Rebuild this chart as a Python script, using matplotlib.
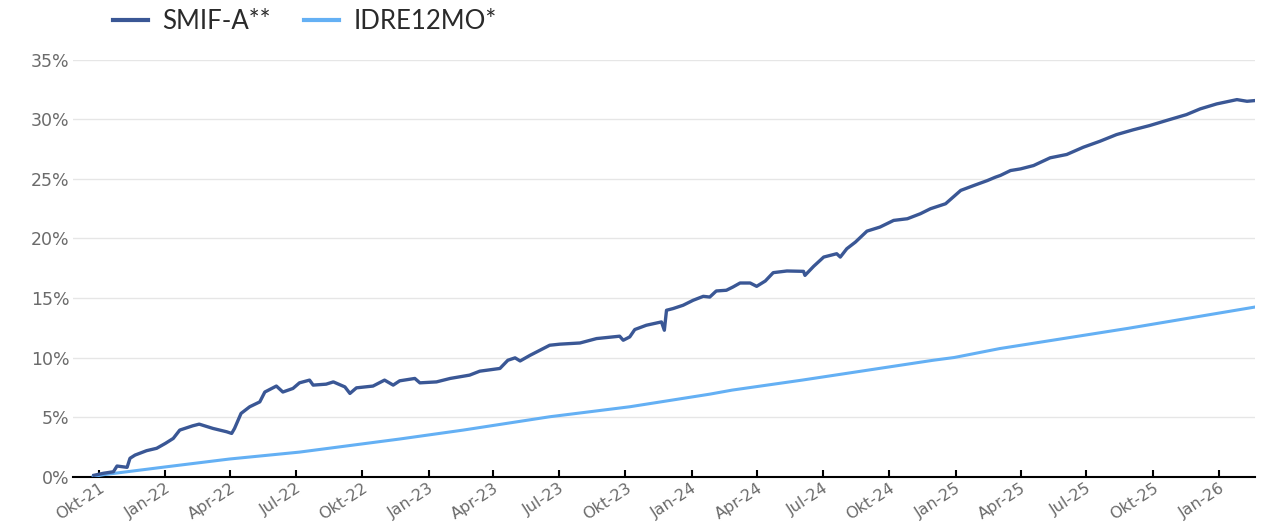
import pandas as pd
import matplotlib
matplotlib.use("Agg")
import matplotlib.pyplot as plt
from matplotlib.ticker import FuncFormatter

# cumulative performance in percent
smif_dates = [
    "2021-09-24", "2021-10-07", "2021-10-21", "2021-10-26", "2021-11-09", "2021-11-13",
    "2021-11-20", "2021-12-06", "2021-12-20", "2022-01-01", "2022-01-12", "2022-01-21",
    "2022-02-08", "2022-02-17", "2022-03-08", "2022-03-27", "2022-04-03", "2022-04-07",
    "2022-04-16", "2022-04-28", "2022-05-12", "2022-05-19", "2022-06-04", "2022-06-13",
    "2022-06-27", "2022-07-06", "2022-07-20", "2022-07-25", "2022-08-12", "2022-08-22",
    "2022-09-07", "2022-09-14", "2022-09-23", "2022-10-16", "2022-11-01", "2022-11-13",
    "2022-11-22", "2022-12-13", "2022-12-20", "2023-01-12", "2023-01-31", "2023-02-27",
    "2023-03-13", "2023-04-10", "2023-04-21", "2023-05-01", "2023-05-08", "2023-05-22",
    "2023-06-18", "2023-07-02", "2023-07-30", "2023-08-22", "2023-09-23", "2023-09-28",
    "2023-10-07", "2023-10-14", "2023-10-30", "2023-11-20", "2023-11-24", "2023-11-27",
    "2023-12-06", "2023-12-20", "2024-01-03", "2024-01-17", "2024-01-26", "2024-02-04",
    "2024-02-18", "2024-02-27", "2024-03-08", "2024-03-22", "2024-03-31", "2024-04-12",
    "2024-04-23", "2024-05-12", "2024-06-04", "2024-06-06", "2024-06-18", "2024-07-02",
    "2024-07-20", "2024-07-25", "2024-08-03", "2024-08-15", "2024-08-31", "2024-09-18",
    "2024-10-07", "2024-10-26", "2024-11-13", "2024-11-27", "2024-12-18", "2025-01-08",
    "2025-01-26", "2025-02-14", "2025-02-25", "2025-03-04", "2025-03-18", "2025-04-01",
    "2025-04-19", "2025-05-12", "2025-06-04", "2025-06-27", "2025-07-20", "2025-08-12",
    "2025-09-04", "2025-09-27", "2025-10-20", "2025-11-17", "2025-12-06", "2025-12-29",
    "2026-01-26", "2026-02-09", "2026-02-20",
]
smif_values = [
    0.10, 0.27, 0.40, 0.88, 0.77, 1.53,
    1.80, 2.17, 2.37, 2.78, 3.20, 3.90,
    4.26, 4.40, 4.04, 3.76, 3.62, 4.04,
    5.30, 5.86, 6.27, 7.10, 7.60, 7.10,
    7.40, 7.87, 8.10, 7.68, 7.76, 7.95,
    7.53, 6.98, 7.45, 7.60, 8.10, 7.68,
    8.04, 8.24, 7.87, 7.95, 8.24, 8.52,
    8.85, 9.08, 9.77, 9.97, 9.71, 10.19,
    11.03, 11.12, 11.22, 11.59, 11.79, 11.45,
    11.73, 12.35, 12.71, 12.99, 12.29, 13.97,
    14.11, 14.39, 14.81, 15.14, 15.08, 15.59,
    15.65, 15.92, 16.26, 16.26, 15.98, 16.43,
    17.13, 17.27, 17.24, 16.90, 17.66, 18.44,
    18.72, 18.44, 19.14, 19.70, 20.62, 20.96,
    21.52, 21.66, 22.08, 22.50, 22.92, 24.04,
    24.45, 24.87, 25.15, 25.30, 25.71, 25.85,
    26.13, 26.78, 27.06, 27.67, 28.17, 28.73,
    29.13, 29.49, 29.91, 30.41, 30.89, 31.31,
    31.67, 31.53, 31.59,
]

idre_dates = [
    "2021-09-23", "2021-10-07", "2022-01-03", "2022-03-31", "2022-07-06", "2022-11-22",
    "2023-02-18", "2023-06-18", "2023-10-07", "2024-01-26", "2024-02-26", "2024-06-02",
    "2024-12-01", "2024-12-30", "2025-03-03", "2025-08-28", "2026-02-20",
]
idre_values = [
    0.00, 0.15, 0.82, 1.47, 2.05, 3.15,
    3.90, 5.02, 5.86, 6.92, 7.26, 8.10,
    9.77, 10.00, 10.75, 12.45, 14.24,
]

tick_dates = [
    "2021-10-01", "2022-01-01", "2022-04-01", "2022-07-01", "2022-10-01", "2023-01-01",
    "2023-04-01", "2023-07-01", "2023-10-01", "2024-01-01", "2024-04-01", "2024-07-01",
    "2024-10-01", "2025-01-01", "2025-04-01", "2025-07-01", "2025-10-01", "2026-01-01",
]
tick_labels = [
    "Okt-21", "Jan-22", "Apr-22", "Jul-22", "Okt-22", "Jan-23",
    "Apr-23", "Jul-23", "Okt-23", "Jan-24", "Apr-24", "Jul-24",
    "Okt-24", "Jan-25", "Apr-25", "Jul-25", "Okt-25", "Jan-26",
]

smif_x = pd.to_datetime(smif_dates)
idre_x = pd.to_datetime(idre_dates)

fig = plt.figure(figsize=(12.72, 5.23), dpi=100)
ax = fig.add_axes([0.0574, 0.0889, 0.9292, 0.7964])

ax.plot(idre_x, idre_values, color="#64b0f4", linewidth=2.2, label="IDRE12MO*", zorder=3)
ax.plot(smif_x, smif_values, color="#3a5795", linewidth=2.4, label="SMIF-A**", zorder=4)

ax.set_ylim(0, 35)
ax.set_yticks(range(0, 36, 5))
ax.yaxis.set_major_formatter(FuncFormatter(lambda v, p: f"{v:.0f}%"))
ax.set_xlim(pd.Timestamp("2021-08-26"), pd.Timestamp("2026-02-20"))
ax.set_xticks(pd.to_datetime(tick_dates))
ax.set_xticklabels(tick_labels, rotation=33, ha="right", va="top", rotation_mode="anchor")

ax.grid(axis="y", color="#e6e6e6", linewidth=1)
ax.set_axisbelow(True)
for side in ["top", "right", "left"]:
    ax.spines[side].set_visible(False)
ax.spines["bottom"].set_color("black")
ax.spines["bottom"].set_linewidth(1.5)
ax.tick_params(axis="y", length=0, pad=2.5, labelsize=12.5, labelcolor="#6b6b6b")
ax.tick_params(axis="x", direction="in", length=5, width=1.5, color="black", pad=3,
               labelsize=11.5, labelcolor="#6b6b6b")
for lab in ax.get_xticklabels() + ax.get_yticklabels():
    lab.set_family("DejaVu Sans")

handles, labels = ax.get_legend_handles_labels()
leg = fig.legend(handles[::-1], labels[::-1], loc="center left",
                 bbox_to_anchor=(0.071, 0.958), ncol=2, frameon=False,
                 handlelength=1.36, handletextpad=0.55, columnspacing=1.3,
                 prop={"family": "Lato", "size": 18.5})
for line in leg.get_lines():
    line.set_linewidth(3)
for t in leg.get_texts():
    t.set_color("#2a2a2a")

fig.savefig("out.png", dpi=100)
